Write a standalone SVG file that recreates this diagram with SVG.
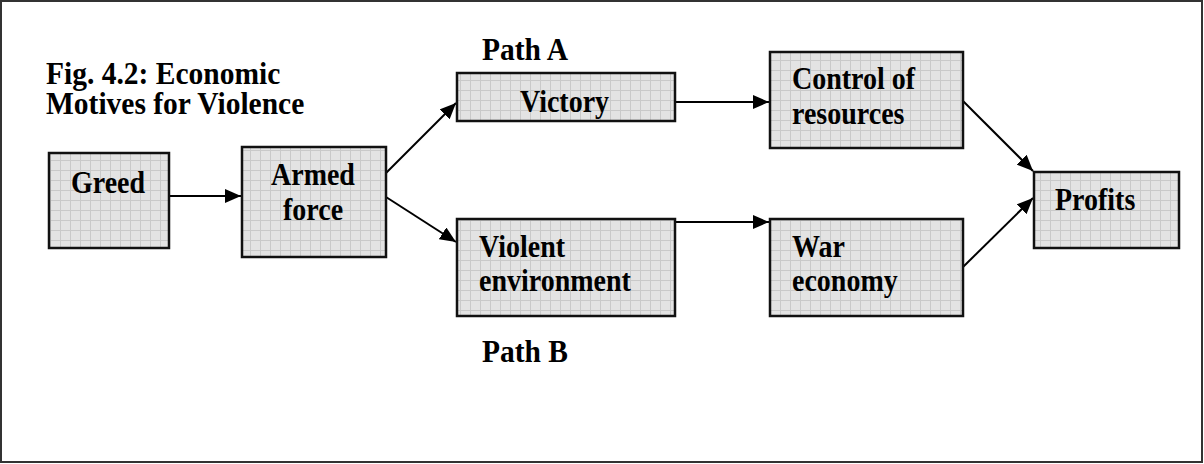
<svg xmlns="http://www.w3.org/2000/svg" width="1204" height="464" viewBox="0 0 1204 464">
<style>
.t{font-family:"Liberation Serif","Times New Roman",serif;font-weight:bold;font-size:28px;fill:#000}
.l{font-size:29.5px}
.box{fill:url(#grid);stroke:#111;stroke-width:2.5}
.c{stroke:#000;stroke-width:2;fill:none;marker-end:url(#ah)}
</style>
<defs>
<pattern id="grid" width="10" height="10" patternUnits="userSpaceOnUse">
<rect width="10" height="10" fill="#e3e3e3"/>
<path d="M0 0.5H10M0.5 0V10" stroke="#c9c9c9" stroke-width="1"/>
</pattern>
<marker id="ah" viewBox="0 0 16 14" refX="16" refY="7" markerWidth="16" markerHeight="14" markerUnits="userSpaceOnUse" orient="auto">
<path d="M0 0L16 7L0 14Z" fill="#000"/>
</marker>
</defs>
<rect x="1" y="1" width="1201" height="461" fill="#fff" stroke="#333" stroke-width="2"/>
<g id="title">
<text class="t l" transform="matrix(1,0,0,1.1,46,84)">Fig. 4.2: Economic</text>
<text class="t l" transform="matrix(1,0,0,1.1,46,114)">Motives for Violence</text>
</g>
<g id="pathA"><text class="t l" transform="matrix(1,0,0,1.1,482,60)">Path A</text></g>
<g id="pathB"><text class="t l" transform="matrix(1,0,0,1.1,482,362)">Path B</text></g>
<g id="connectors">
<line class="c" x1="169" y1="196" x2="241" y2="196"/>
<line class="c" x1="386" y1="173" x2="456" y2="103"/>
<line class="c" x1="386" y1="197" x2="456" y2="242"/>
<line class="c" x1="675" y1="102" x2="769" y2="102"/>
<line class="c" x1="675" y1="222" x2="769" y2="222"/>
<line class="c" x1="963" y1="101" x2="1033" y2="171"/>
<line class="c" x1="963" y1="267" x2="1033" y2="198"/>
</g>
<g id="greed">
<rect class="box" x="49" y="153" width="120" height="95"/>
<text class="t" transform="matrix(1,0,0,1.1,71,193)">Greed</text>
</g>
<g id="armed">
<rect class="box" x="242" y="147" width="144" height="110"/>
<text class="t" transform="matrix(1,0,0,1.1,271,185)">Armed</text>
<text class="t" transform="matrix(1,0,0,1.1,283,220)">force</text>
</g>
<g id="victory">
<rect class="box" x="457" y="73" width="218" height="48"/>
<text class="t" transform="matrix(1,0,0,1.1,520,112)">Victory</text>
</g>
<g id="violent">
<rect class="box" x="457" y="219" width="218" height="97"/>
<text class="t" transform="matrix(1,0,0,1.1,479,257)">Violent</text>
<text class="t" transform="matrix(1,0,0,1.1,479,291)">environment</text>
</g>
<g id="control">
<rect class="box" x="770" y="52" width="193" height="96"/>
<text class="t" transform="matrix(1,0,0,1.1,792,89)">Control of</text>
<text class="t" transform="matrix(1,0,0,1.1,792,124)">resources</text>
</g>
<g id="war">
<rect class="box" x="770" y="219" width="193" height="97"/>
<text class="t" transform="matrix(1,0,0,1.1,792,257)">War</text>
<text class="t" transform="matrix(1,0,0,1.1,792,291)">economy</text>
</g>
<g id="profits">
<rect class="box" x="1034" y="172" width="145" height="76"/>
<text class="t" transform="matrix(1,0,0,1.1,1055,210)">Profits</text>
</g>
</svg>
